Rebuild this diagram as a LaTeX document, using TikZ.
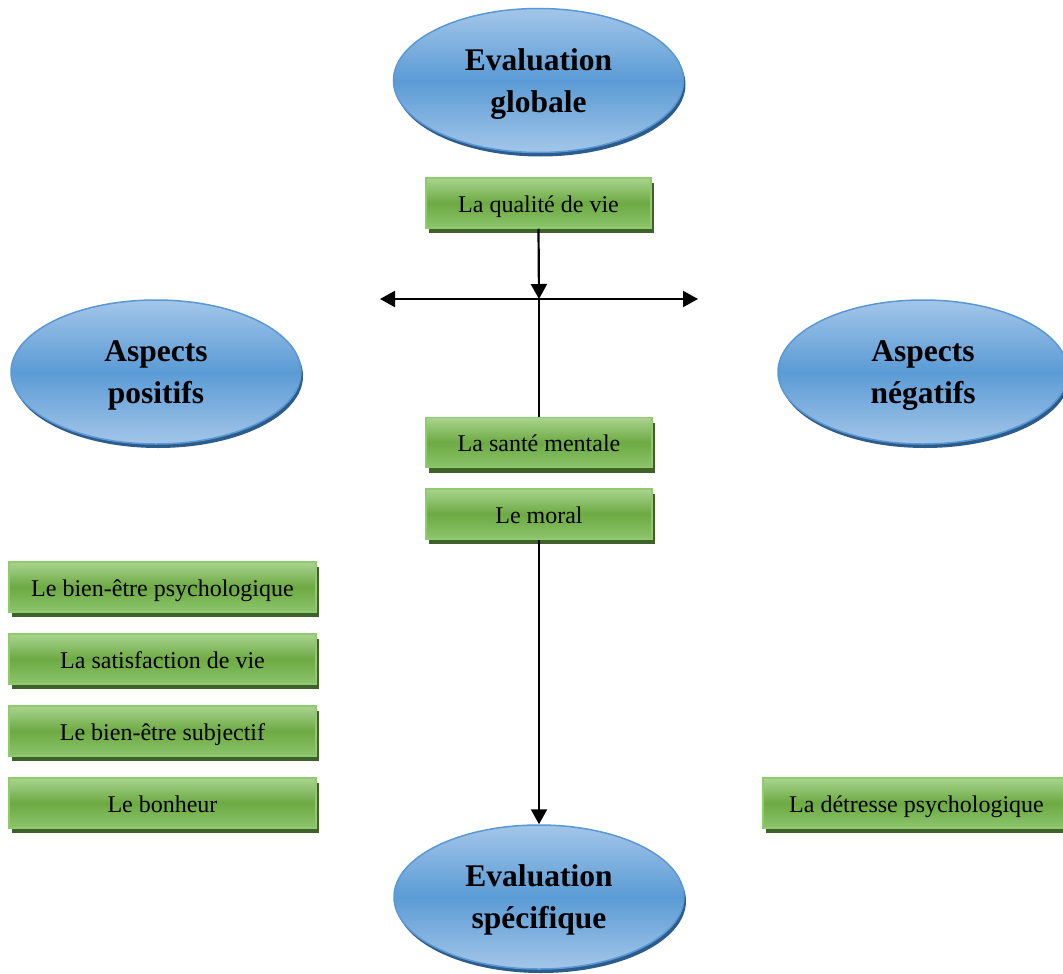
\documentclass[tikz,border=0pt]{standalone}
\usepackage{fontspec}
\setmainfont{Liberation Serif}
\usetikzlibrary{shapes.geometric,shadows,arrows.meta}
\definecolor{bluetop}{HTML}{A3C6E9}
\definecolor{bluemid}{HTML}{5B9BD5}
\definecolor{blueborder}{HTML}{5A98D3}
\definecolor{blueshadow}{HTML}{2C5C8C}
\definecolor{greentop}{HTML}{A9D38F}
\definecolor{greenmid}{HTML}{6DAA43}
\definecolor{greenbot}{HTML}{8CC46C}
\definecolor{greenborder}{HTML}{8FCB6A}
\definecolor{greenshadow}{HTML}{3E6229}
\begin{document}
\begin{tikzpicture}[x=1pt,y=-1pt,
 oval/.style={ellipse, minimum width=290pt, minimum height=144pt, inner sep=0pt,
   draw=blueborder, line width=1.5pt, top color=bluetop, bottom color=bluetop, middle color=bluemid,
   drop shadow={shadow xshift=2pt, shadow yshift=-4pt, fill=blueshadow, opacity=1},
   align=center, text depth=0pt, font=\fontsize{31.5}{42}\selectfont\bfseries},
 gbox/.style={rectangle, minimum height=50pt, inner sep=0pt,
   draw=greenborder, line width=1.5pt, top color=greentop, bottom color=greenbot, middle color=greenmid,
   drop shadow={shadow xshift=2.5pt, shadow yshift=-5pt, fill=greenshadow, opacity=1},
   text height=18pt, text depth=0pt, font=\fontsize{24}{29}\selectfont},
 conn/.style={line width=2.2pt, draw=black},
 tip/.style={-{Triangle[length=15pt,width=16pt]}},
 dtip/.style={{Triangle[length=15pt,width=16pt]}-{Triangle[length=15pt,width=16pt]}}
]
\useasboundingbox (0,0) rectangle (1063,974);
\clip (0,0) rectangle (1063,974);

\node[oval] (eg) at (538.5,80.5) {Evaluation\\globale};
\node[oval] (ap) at (156,372) {Aspects\\positifs};
\node[oval] (an) at (923,372) {Aspects\\négatifs};
\node[oval] (es) at (539,897) {Evaluation\\spécifique};

\node[gbox, minimum width=225pt] (qv) at (538.5,203) {La qualité de vie};
\node[gbox, minimum width=226pt] (sm) at (539,442.5) {La santé mentale};
\node[gbox, minimum width=226pt] (mo) at (539,514) {Le moral};

\node[gbox, minimum width=307pt] (b1) at (162.5,587) {Le bien-être psychologique};
\node[gbox, minimum width=307pt] (b2) at (162.5,659) {La satisfaction de vie};
\node[gbox, minimum width=307pt] (b3) at (162.5,731) {Le bien-être subjectif};
\node[gbox, minimum width=307pt] (b4) at (162.5,803) {Le bonheur};
\node[gbox, minimum width=307pt] (dp) at (916.5,803) {La détresse psychologique};

\coordinate (hl) at (380,299);
\coordinate (hr) at (698,299);
\coordinate (j) at (539,299);

\draw[conn, dtip] (hl) -- (hr);
\draw[conn, tip] (qv.south) -- (j);
\draw[conn] (j) -- (sm.north);
\draw[conn, tip] (mo.south) -- (es.north);
\end{tikzpicture}
\end{document}
